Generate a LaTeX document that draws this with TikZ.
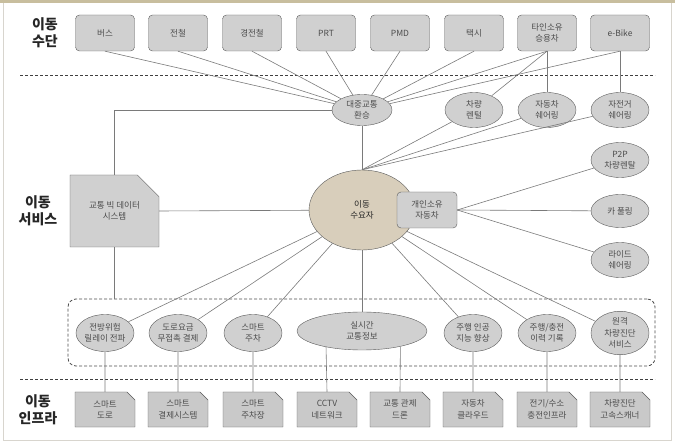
\documentclass[tikz,border=0pt]{standalone}
\usepackage{fontspec}
\setmainfont{Noto Sans CJK KR}
\usetikzlibrary{shapes.geometric,shapes.misc}

\definecolor{boxgray}{HTML}{D0D0D0}
\definecolor{infragray}{HTML}{C9C9C9}
\definecolor{edgegray}{HTML}{5A5A5A}
\definecolor{linegray}{HTML}{7A7A7A}
\definecolor{sand}{HTML}{D8CEBB}
\definecolor{barbeige}{HTML}{C8BE9E}
\definecolor{framegray}{HTML}{D8D5CE}

\begin{document}
\begin{tikzpicture}[x=1pt, y=-1pt, font=\fontsize{8.5}{11.5}\selectfont,
    mode/.style = {draw=edgegray, fill=boxgray, rounded corners=4pt, align=center,
      text=black!70, minimum width=59pt, minimum height=36pt, inner sep=1pt},
    svc/.style = {draw=edgegray, fill=boxgray, ellipse, align=center, text=black!70,
      minimum width=58pt, minimum height=35pt, inner sep=0pt},
    infra/.style = {draw=edgegray, fill=infragray, chamfered rectangle,
      chamfered rectangle corners=north east, chamfered rectangle xsep=4pt,
      chamfered rectangle ysep=4pt, align=center, text=black!70,
      minimum width=60pt, minimum height=35pt, inner sep=1pt},
    tier/.style = {font=\fontsize{14}{17}\selectfont\bfseries, align=center, text=black!85},
    link/.style = {draw=linegray, line width=0.6pt},
    sep/.style = {draw=black!75, line width=0.8pt, dash pattern=on 3pt off 2pt}]
    \useasboundingbox (0,0) rectangle (675,446);

    % Frame
    \draw[framegray, line width=1pt] (3.5,2) rectangle (671,440);
    \fill[barbeige] (0,0) rectangle (675,3);
    \draw[sep] (20,75) -- (655,75);
    \draw[sep] (20,379) -- (655,379);

    % Nodes
    \node[tier] (tmode) at (45,33) {이동\\수단};
    \node[tier] (tsvc) at (38,211) {이동\\서비스};
    \node[tier] (tinfra) at (38,410) {이동\\인프라};

    \node[mode] (bus) at (105,33) {버스};
    \node[mode] (subway) at (178,33) {전철};
    \node[mode] (lrt) at (252,33) {경전철};
    \node[mode] (prt) at (326,33) {PRT};
    \node[mode] (pmd) at (400,33) {PMD};
    \node[mode] (taxi) at (474,33) {택시};
    \node[mode] (other) at (547,33) {타인소유\\승용차};
    \node[mode] (ebike) at (620,33) {e-Bike};

    \node[svc, minimum width=60pt, minimum height=31pt] (hub) at (362,110) {대중교통\\환승};
    \node[svc] (rent) at (474,110) {차량\\렌털};
    \node[svc] (carsh) at (547,110) {자동차\\쉐어링};
    \node[svc] (bikesh) at (620,110) {자전거\\쉐어링};

    \node[infra, fill=boxgray, minimum width=89pt, minimum height=72pt,
      chamfered rectangle xsep=11pt, chamfered rectangle ysep=11pt] (bigdata) at (114.5,211) {교통 빅 데이터\\시스템};
    \node[svc, fill=sand, minimum width=106pt, minimum height=80pt, text=black!85] (dem) at (362,210) {이동\\수요자};
    \node[mode, minimum width=60pt, minimum height=36pt] (own) at (427,210) {개인소유\\자동차};

    \node[svc] (p2p) at (620,160) {P2P\\차량렌탈};
    \node[svc, minimum height=33pt] (carpool) at (620,211) {카 풀링};
    \node[svc] (ride) at (620,260) {라이드\\쉐어링};

    \node[draw=black!70, line width=0.8pt, dash pattern=on 3pt off 2pt, rounded corners=8pt,
      minimum width=587pt, minimum height=67pt] (grp) at (361.5,332.5) {};
    \node[svc, minimum height=37pt] (risk) at (105,333) {전방위험\\릴레이 전파};
    \node[svc, minimum height=37pt] (toll) at (178,333) {도로요금\\무접촉 결제};
    \node[svc, minimum height=37pt] (spark) at (253,333) {스마트\\주차};
    \node[svc, minimum width=130pt, minimum height=38pt] (rti) at (362,331) {실시간\\교통정보};
    \node[svc, minimum height=37pt] (ai) at (473,333) {주행 인공\\지능 향상};
    \node[svc, minimum height=37pt] (hist) at (547,333) {주행/충전\\이력 기록};
    \node[svc, minimum height=37pt] (diag) at (620,333) {원격\\차량진단\\서비스};

    \node[infra] (road) at (105,409.5) {스마트\\도로};
    \node[infra] (pay) at (178,409.5) {스마트\\결제시스템};
    \node[infra] (plot) at (253,409.5) {스마트\\주차장};
    \node[infra] (cctv) at (327,409.5) {CCTV\\네트워크};
    \node[infra] (drone) at (400,409.5) {교통 관제\\드론};
    \node[infra] (cloud) at (473,409.5) {자동차\\클라우드};
    \node[infra] (charge) at (547,409.5) {전기/수소\\충전인프라};
    \node[infra] (scan) at (620,409.5) {차량진단\\고속스캐너};

    % Edges
    \foreach \m in {bus, subway, lrt, prt, pmd, taxi, other, ebike}
      \draw[link] (\m.south) -- (hub);
    \draw[link] (other.south) -- (rent);
    \draw[link] (other) -- (carsh);
    \draw[link] (ebike) -- (bikesh);

    \draw[link] (hub.west) -| (bigdata.north);
    \draw[link] (bigdata.south) -- (bigdata.south |- grp.north);
    \draw[link] (bigdata.east) -- (dem);

    \draw[link] (hub) -- (dem);
    \foreach \s in {rent, carsh, bikesh}
      \draw[link] (dem.north) -- (\s);
    \foreach \s in {p2p, carpool, ride}
      \draw[link] (own.east) -- (\s);
    \foreach \s in {risk, toll, spark, rti, ai, hist, diag}
      \draw[link] (dem) -- (\s);

    \draw[link] (risk) -- (road);
    \draw[link] (toll) -- (pay);
    \draw[link] (spark) -- (plot);
    \draw[link] (rti.204.6) -- (cctv.north);
    \draw[link] (rti.338) -- (drone.north);
    \draw[link] (ai) -- (cloud);
    \draw[link] (hist) -- (charge);
    \draw[link] (diag) -- (scan);
\end{tikzpicture}
\end{document}
